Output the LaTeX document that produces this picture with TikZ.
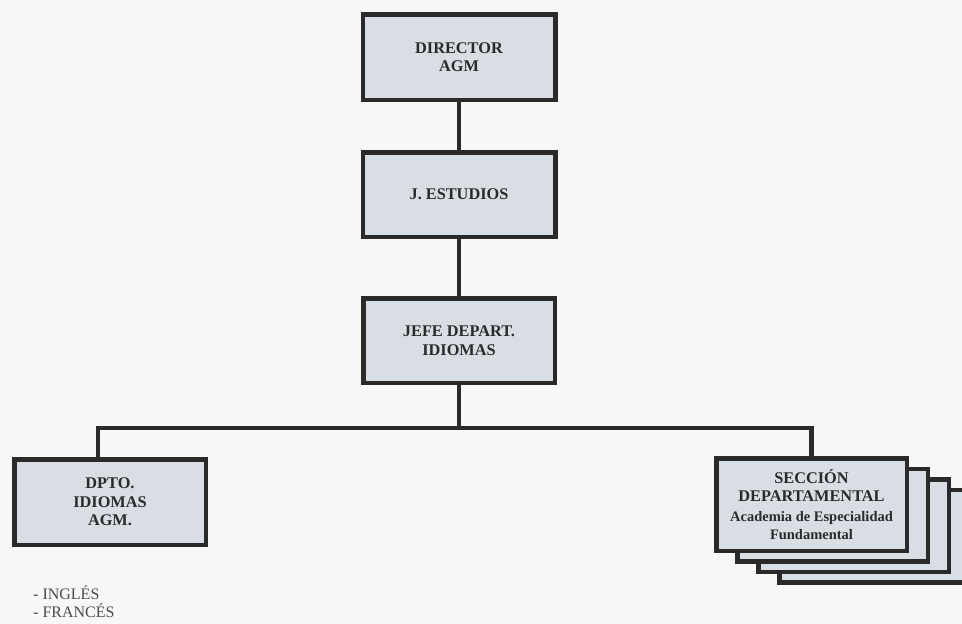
\documentclass[tikz,border=0pt]{standalone}
\usepackage{fontspec}
\setmainfont{Liberation Serif}
\definecolor{paper}{HTML}{F8F8F8}
\definecolor{boxfill}{HTML}{D9DEE4}
\definecolor{ink}{HTML}{2A2A2A}
\definecolor{listink}{HTML}{4A4A4A}
\newcommand{\subline}{\fontsize{14.5}{14}\selectfont}
\begin{document}
\begin{tikzpicture}[x=1pt,y=-1pt,
  orgbox/.style={draw=ink, line width=4.5pt, fill=boxfill, rectangle,
    inner sep=0pt, align=center, text=ink,
    font=\fontsize{16.3}{18.5}\selectfont\bfseries},
  link/.style={draw=ink, line width=4.5pt, line join=miter}]
  % canvas
  \fill[paper] (0,0) rectangle (962,624);
  \useasboundingbox (0,0) rectangle (962,624);

  % chain of command
  \node[orgbox, minimum width=192.5pt, minimum height=85.5pt] (dir) at (459,57)
    {DIRECTOR\\AGM};
  \node[orgbox, minimum width=192.5pt, minimum height=84.5pt] (est) at (459,194.5)
    {J. ESTUDIOS};
  \node[orgbox, minimum width=191.5pt, minimum height=84.5pt] (jefe) at (459,340.5)
    {JEFE DEPART.\\IDIOMAS};

  % language department
  \node[orgbox, minimum width=191.5pt, minimum height=85.5pt] (dpto) at (110,502)
    {DPTO.\\IDIOMAS\\AGM.};

  % stacked departmental sections (back to front)
  \foreach \k in {3,2,1} {
    \node[orgbox, minimum width=190.5pt, minimum height=92.5pt] (sec\k)
      at (811.5+21*\k,504.5+10.5*\k) {};
  }
  \node[orgbox, minimum width=190.5pt, minimum height=92.5pt] (secc) at (811.5,504.5)
    {SECCIÓN\\DEPARTAMENTAL\\[1pt]
     \subline Academia de Especialidad\\\subline Fundamental};

  % languages taught
  \node[anchor=north west, align=left, inner sep=0pt, text=listink,
        font=\fontsize{16}{18}\selectfont] (langs) at (33,586)
    {- INGLÉS\\- FRANCÉS};

  % connectors
  \coordinate (hub) at (jefe.south |- 0,428);
  \coordinate (ldrop) at (98,428);
  \coordinate (rdrop) at (secc.north |- 0,428);
  \draw[link] (dir.south) -- (est.north);
  \draw[link] (est.south) -- (jefe.north);
  \draw[link] (jefe.south) -- (hub);
  \draw[link] (ldrop |- dpto.north) -- (ldrop) -- (rdrop) -- (secc.north);
\end{tikzpicture}
\end{document}
